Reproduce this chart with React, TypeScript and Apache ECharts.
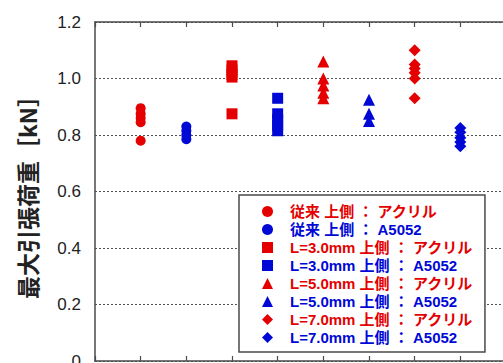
import React, { useEffect, useRef } from "react";
import * as echarts from "echarts";

const seriesNames = [
  "従来 上側 ： アクリル",
  "従来 上側 ： A5052",
  "L=3.0mm 上側 ： アクリル",
  "L=3.0mm 上側 ： A5052",
  "L=5.0mm 上側 ： アクリル",
  "L=5.0mm 上側 ： A5052",
  "L=7.0mm 上側 ： アクリル",
  "L=7.0mm 上側 ： A5052",
];
const positions = [1, 2, 3, 4, 5, 6, 7, 8];
const s1 = [0.895, 0.875, 0.86, 0.845, 0.78];
const s2 = [0.83, 0.815, 0.8, 0.785];
const s3 = [1.045, 1.03, 1.015, 1.005, 0.875];
const s4 = [0.93, 0.875, 0.855, 0.835, 0.815];
const s5 = [1.06, 1.0, 0.975, 0.95, 0.93];
const s6 = [0.925, 0.875, 0.85];
const s7 = [1.1, 1.05, 1.035, 1.02, 1.0, 0.93];
const s8 = [0.825, 0.81, 0.79, 0.775, 0.76];
const allValues = [s1, s2, s3, s4, s5, s6, s7, s8];
const yTicks = [0, 0.2, 0.4, 0.6, 0.8, 1.0, 1.2];

const RED = "#e40000";
const BLUE = "#0008d6";
const colors = [RED, BLUE, RED, BLUE, RED, BLUE, RED, BLUE];
const symbols = ["circle", "circle", "rect", "rect", "triangle", "triangle", "diamond", "diamond"];
const sizes = [10, 10, 11, 11, 12, 12, 12, 12];

export default function App() {
  const ref = useRef<HTMLDivElement>(null);
  useEffect(() => {
    if (!ref.current) return;
    const chart = echarts.init(ref.current, undefined, { renderer: "svg" });
    const axisLine = { show: true, lineStyle: { color: "#4a4a4a", width: 1.5 } };
    const xBase = {
      type: "value" as const,
      min: 0,
      max: 9,
      interval: 1,
      axisLine,
      axisTick: { show: true, inside: true, length: 5, lineStyle: { color: "#4a4a4a", width: 1.2 } },
      axisLabel: { show: false },
      splitLine: { show: false },
    };
    chart.setOption({
      animation: false,
      grid: { left: 95, top: 22, right: 14, bottom: 19 },
      xAxis: [
        { ...xBase, position: "bottom" },
        { ...xBase, position: "top" },
      ],
      yAxis: [
        {
          type: "value",
          min: 0,
          max: 1.2,
          interval: 0.2,
          axisLine,
          axisTick: { show: false },
          splitLine: { show: true, lineStyle: { color: "#555", type: [2, 2], width: 1 } },
          axisLabel: {
            fontSize: 17,
            color: "#222",
            margin: 14,
            fontFamily: "Liberation Sans, Arial, sans-serif",
            formatter: (v: number) => {
              const t = yTicks.find((x) => Math.abs(x - v) < 1e-6);
              return t === 0 ? "0" : (t ?? v).toFixed(1);
            },
          },
          name: "最大引張荷重［kN］",
          nameLocation: "middle",
          nameRotate: 90,
          nameGap: 57,
          nameTextStyle: {
            fontSize: 23,
            fontWeight: "bold",
            color: "#222",
            fontFamily: "Noto Sans CJK JP, sans-serif",
          },
        },
      ],
      legend: {
        orient: "vertical",
        left: 239,
        top: 195,
        padding: [9, 12, 7, 23],
        itemGap: 3,
        itemWidth: 11,
        itemHeight: 11,
        backgroundColor: "#fff",
        borderColor: "#4a4a4a",
        borderWidth: 1.5,
        borderRadius: 0,
        textStyle: {
          fontSize: 15,
          fontWeight: "bold",
          fontFamily: "Liberation Sans, Noto Sans CJK JP, sans-serif",
          padding: [0, 0, 0, 12],
        },
        data: seriesNames.map((n, i) => ({ name: n, textStyle: { color: colors[i] } })),
      },
      series: seriesNames.map((n, i) => ({
        name: n,
        type: "scatter",
        symbol: symbols[i],
        symbolSize: sizes[i],
        itemStyle: { color: colors[i], opacity: 1 },
        z: 3,
        data: allValues[i].map((v) => [positions[i], v]),
      })),
    });
    return () => chart.dispose();
  }, []);
  return (
    <div style={{ position: "fixed", left: 0, top: 0, width: 503, height: 363, overflow: "hidden", background: "#fff" }}>
      <div ref={ref} style={{ width: 520, height: 380 }} />
    </div>
  );
}
